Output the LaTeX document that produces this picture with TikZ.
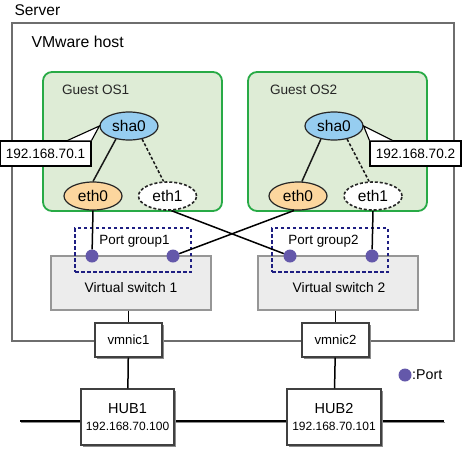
\documentclass[tikz,border=0pt]{standalone}
\usepackage{fontspec}
\setmainfont{Liberation Sans}
\usetikzlibrary{shapes.geometric,shadows,calc}

\definecolor{guestline}{RGB}{40,170,70}
\definecolor{guestfill}{RGB}{222,236,214}
\definecolor{shafill}{RGB}{150,205,240}
\definecolor{ethfill}{RGB}{252,214,158}
\definecolor{switchfill}{RGB}{236,236,236}
\definecolor{switchline}{RGB}{150,150,150}
\definecolor{portcol}{RGB}{100,88,170}
\definecolor{groupline}{RGB}{30,30,130}
\definecolor{serverline}{RGB}{110,110,110}

\begin{document}
\begin{tikzpicture}[x=1pt,y=-1pt,
		guest/.style={draw=guestline,fill=guestfill,line width=1.8pt,rounded corners=9pt,minimum width=179pt,minimum height=139pt},
		nic/.style={ellipse,draw=black!85,line width=1.2pt,minimum width=58pt,minimum height=28pt,inner sep=0pt,font=\fontsize{15.5}{18}\selectfont},
		ipbox/.style={draw=black,fill=white,line width=1.1pt,minimum width=91pt,minimum height=25pt,inner sep=0pt,font=\fontsize{13.6}{16}\selectfont},
		vswitch/.style={draw=switchline,fill=switchfill,line width=1.1pt,minimum width=160pt,minimum height=54pt},
		pgroup/.style={draw=groupline,line width=1.6pt,dash pattern=on 3.5pt off 2.5pt,minimum width=116pt,minimum height=44pt},
		port/.style={circle,fill=portcol,inner sep=0pt,minimum size=13pt},
		hwbox/.style={draw=black!75,fill=white,line width=1.1pt,inner sep=0pt,drop shadow={shadow xshift=1.5pt,shadow yshift=-1.5pt,fill=black!45,opacity=1}},
		wire/.style={line width=1.5pt,black}]
	\useasboundingbox (0,0) rectangle (462,448);

	% server / vmware host
	\draw[serverline,line width=1.4pt] (12,23) rectangle (454,341);
	\node[anchor=base west,font=\fontsize{15.5}{18}\selectfont] (server) at (11,15) {Server};
	\node[anchor=base west,font=\fontsize{15.8}{18}\selectfont] (host) at (28,47.5) {VMware host};

	% LAN line
	\coordinate (lanL) at (20,421);
	\coordinate (lanR) at (444,421);
	\draw[black!45,line width=1.5pt] ($(lanL)+(1,1.5)$) -- ($(lanR)+(1,1.5)$);
	\draw[wire] (lanL) -- (lanR);

	% guest OS boxes
	\node[guest] (guest1) at (132.5,141.5) {};
	\node[guest] (guest2) at (337.5,141.5) {};
	\node[anchor=base west,font=\fontsize{13.6}{16}\selectfont,black!85] (glab1) at (58.5,94) {Guest OS1};
	\node[anchor=base west,font=\fontsize{13.6}{16}\selectfont,black!85] (glab2) at (266.5,94) {Guest OS2};

	\node[nic,fill=shafill] (sha1) at (129,126) {sha0};
	\node[nic,fill=ethfill] (eth0a) at (93,196) {eth0};
	\node[nic,fill=white,line width=1.6pt,dash pattern=on 3pt off 2pt] (eth1a) at (167.5,196) {eth1};

	\node[nic,fill=shafill] (sha2) at (334,126) {sha0};
	\node[nic,fill=ethfill] (eth0b) at (298,196) {eth0};
	\node[nic,fill=white,line width=1.6pt,dash pattern=on 3pt off 2pt] (eth1b) at (373,196) {eth1};

	\draw[wire,black!90] (sha1.225) -- (eth0a.north);
	\draw[wire,black!90,dash pattern=on 3pt off 2pt] (sha1.-45) -- (eth1a.105);
	\draw[wire,black!90] (sha2.225) -- (eth0b.75);
	\draw[wire,black!90,dash pattern=on 3pt off 2pt] (sha2.-45) -- (eth1b.105);

	% ip callouts
	\node[ipbox] (ip1) at (45.5,153.5) {192.168.70.1};
	\filldraw[fill=white,line width=1.1pt] ($(ip1.north east)+(-24,0)$) -- (sha1.west) -- ($(ip1.north east)+(0,0)$);
	\node[ipbox] (ip2) at (415.5,153.5) {192.168.70.2};
	\filldraw[fill=white,line width=1.1pt] ($(ip2.north west)+(23,0)$) -- (sha2.east) -- ($(ip2.north west)+(0,0)$);

	% virtual switches
	\node[vswitch] (vs1) at (131,283) {};
	\node[vswitch] (vs2) at (338,283) {};
	\node[font=\fontsize{13.8}{16}\selectfont] (vslab1) at (131,288) {Virtual switch 1};
	\node[font=\fontsize{13.8}{16}\selectfont] (vslab2) at (339,288) {Virtual switch 2};

	\node[pgroup] (pg1) at (133,250) {};
	\node[pgroup] (pg2) at (330,250) {};
	\node[font=\fontsize{13.4}{16}\selectfont] (pglab1) at (134.5,241) {Port group1};
	\node[font=\fontsize{13.4}{16}\selectfont] (pglab2) at (323.5,241) {Port group2};

	% ports
	\node[port] (p1a) at (92,256) {};
	\node[port] (p1b) at (173,256) {};
	\node[port] (p2a) at (290,256) {};
	\node[port] (p2b) at (372,256) {};

	\draw[wire] (eth0a.south) -- (p1a);
	\draw[wire] (eth1a.-75) -- (p2a);
	\draw[wire] (eth0b.-105) -- (p1b);
	\draw[wire] (eth1b.south) -- (p2b);

	% vmnic and hubs
	\node[hwbox,minimum width=67pt,minimum height=34pt,font=\fontsize{13.2}{16}\selectfont] (vmnic1) at (128.5,340) {vmnic1};
	\node[hwbox,minimum width=67pt,minimum height=34pt,font=\fontsize{13.2}{16}\selectfont] (vmnic2) at (335.5,340) {vmnic2};
	\draw[wire] (vmnic1.north |- vs1.south) -- (vmnic1.north);
	\draw[wire] (vmnic2.north |- vs2.south) -- (vmnic2.north);

	\node[hwbox,minimum width=93pt,minimum height=56pt,align=center,font=\fontsize{14.5}{16.5}\selectfont] (hub1) at (127.5,417) {HUB1\\{\fontsize{12}{16.5}\selectfont 192.168.70.100}};
	\node[hwbox,minimum width=94pt,minimum height=56pt,align=center,font=\fontsize{14.5}{16.5}\selectfont] (hub2) at (334,417) {HUB2\\{\fontsize{12}{16.5}\selectfont 192.168.70.101}};
	\draw[wire] (vmnic1) -- (hub1);
	\draw[wire] (vmnic2) -- (hub2);

	% legend
	\node[port] (legport) at (405,375) {};
	\node[anchor=west,inner sep=0pt,font=\fontsize{14.2}{16}\selectfont] (leglab) at (412,375) {:Port};
\end{tikzpicture}
\end{document}
